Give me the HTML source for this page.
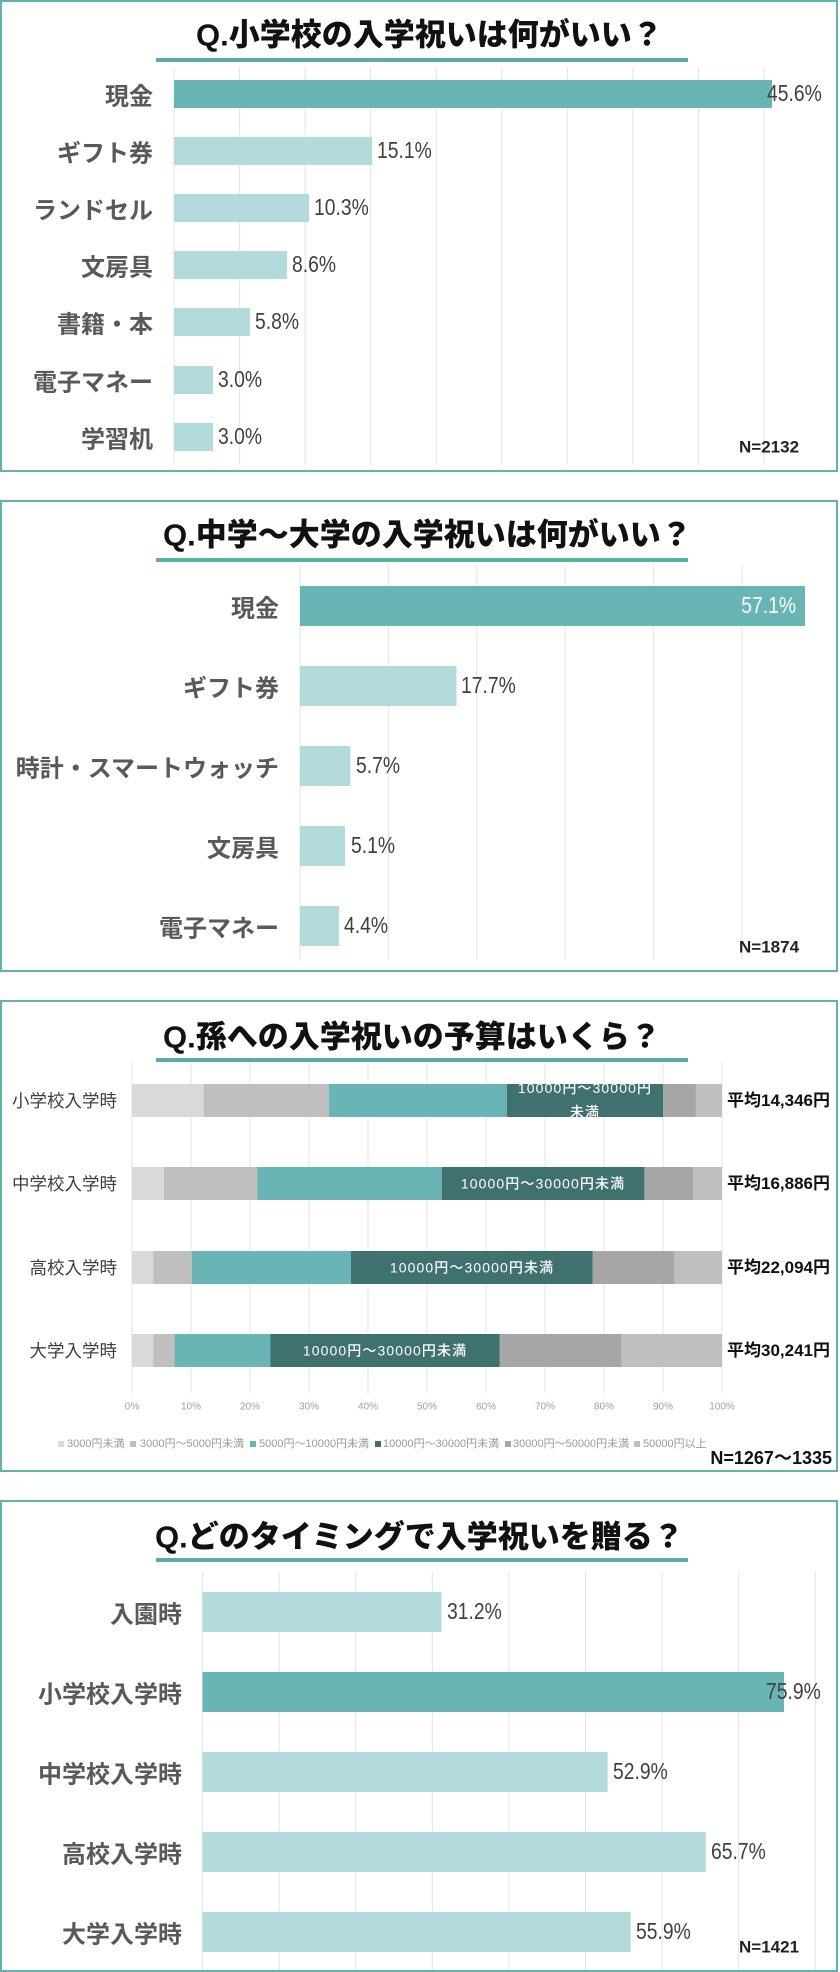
<!DOCTYPE html>
<html><head><meta charset="utf-8"><style>
html,body{margin:0;padding:0;background:#fff;}
svg{display:block;}
text{font-family:"Liberation Sans","Noto Sans CJK JP",sans-serif;}
.t{font-size:31px;font-weight:900;fill:#111;}
.c{font-size:24px;font-weight:bold;fill:#595959;font-family:"Noto Sans CJK JP",sans-serif;}
.v{font-size:23px;fill:#404040;}
.n{font-size:17px;font-weight:bold;fill:#222;}
.g{stroke:#e3e3e3;stroke-width:1;}
.c3{font-size:17.5px;fill:#404040;font-family:"Noto Sans CJK JP",sans-serif;}
.av{font-size:17px;font-weight:bold;fill:#111;}
.tk{font-size:10px;fill:#a0a0a0;}
.lg{font-size:11px;fill:#9a9a9a;}
.sl{font-size:14px;fill:#fff;letter-spacing:1.1px;font-weight:500;}
</style></head><body>
<svg width="840" height="1972" viewBox="0 0 840 1972" xmlns="http://www.w3.org/2000/svg">
<defs>
<clipPath id="cp1"><rect x="506.8" y="1084" width="156.4" height="33"/></clipPath>
</defs>

<!-- ========== Panel 1 ========== -->
<rect x="1" y="1" width="836" height="470" fill="#fff" stroke="#62b3b0" stroke-width="2"/>
<text class="t" x="196" y="35" dominant-baseline="central">Q.小学校の入学祝いは何がいい？</text>
<rect x="156" y="58" width="532" height="4" fill="#5aabab"/>
<g class="g">
<line x1="174" y1="67" x2="174" y2="465"/><line x1="239.6" y1="67" x2="239.6" y2="465"/>
<line x1="305.1" y1="67" x2="305.1" y2="465"/><line x1="370.7" y1="67" x2="370.7" y2="465"/>
<line x1="436.2" y1="67" x2="436.2" y2="465"/><line x1="501.8" y1="67" x2="501.8" y2="465"/>
<line x1="567.3" y1="67" x2="567.3" y2="465"/><line x1="632.9" y1="67" x2="632.9" y2="465"/>
<line x1="698.4" y1="67" x2="698.4" y2="465"/><line x1="764" y1="67" x2="764" y2="465"/>
</g>
<rect x="174" y="80" width="598" height="28" fill="#69b4b5"/>
<rect x="174" y="137" width="198" height="28" fill="#b3dbdb"/>
<rect x="174" y="194" width="135" height="28" fill="#b3dbdb"/>
<rect x="174" y="251" width="113" height="28" fill="#b3dbdb"/>
<rect x="174" y="308" width="76" height="28" fill="#b3dbdb"/>
<rect x="174" y="366" width="39" height="28" fill="#b3dbdb"/>
<rect x="174" y="423" width="39" height="28" fill="#b3dbdb"/>
<g text-anchor="end">
<text class="c" x="153" y="94" dominant-baseline="central">現金</text>
<text class="c" x="153" y="151" dominant-baseline="central">ギフト券</text>
<text class="c" x="153" y="208" dominant-baseline="central">ランドセル</text>
<text class="c" x="153" y="265" dominant-baseline="central">文房具</text>
<text class="c" x="153" y="322" dominant-baseline="central">書籍・本</text>
<text class="c" x="153" y="380" dominant-baseline="central">電子マネー</text>
<text class="c" x="153" y="437" dominant-baseline="central">学習机</text>
</g>
<text class="v" transform="translate(767 94) scale(0.84 1)" dominant-baseline="central">45.6%</text>
<text class="v" transform="translate(377 151) scale(0.84 1)" dominant-baseline="central">15.1%</text>
<text class="v" transform="translate(314 208) scale(0.84 1)" dominant-baseline="central">10.3%</text>
<text class="v" transform="translate(292 265) scale(0.84 1)" dominant-baseline="central">8.6%</text>
<text class="v" transform="translate(255 322) scale(0.84 1)" dominant-baseline="central">5.8%</text>
<text class="v" transform="translate(218 380) scale(0.84 1)" dominant-baseline="central">3.0%</text>
<text class="v" transform="translate(218 437) scale(0.84 1)" dominant-baseline="central">3.0%</text>
<text class="n" x="739" y="447" dominant-baseline="central">N=2132</text>

<!-- ========== Panel 2 ========== -->
<rect x="1" y="501" width="836" height="470" fill="#fff" stroke="#62b3b0" stroke-width="2"/>
<text class="t" x="163" y="535" dominant-baseline="central">Q.中学～大学の入学祝いは何がいい？</text>
<rect x="156" y="558" width="532" height="4" fill="#5aabab"/>
<g class="g">
<line x1="300" y1="565" x2="300" y2="960"/><line x1="388.4" y1="565" x2="388.4" y2="960"/>
<line x1="476.8" y1="565" x2="476.8" y2="960"/><line x1="565.2" y1="565" x2="565.2" y2="960"/>
<line x1="653.6" y1="565" x2="653.6" y2="960"/><line x1="742" y1="565" x2="742" y2="960"/>
</g>
<rect x="300" y="586" width="505" height="40" fill="#69b4b5"/>
<rect x="300" y="666" width="156.5" height="40" fill="#b3dbdb"/>
<rect x="300" y="746" width="50.4" height="40" fill="#b3dbdb"/>
<rect x="300" y="826" width="45" height="40" fill="#b3dbdb"/>
<rect x="300" y="906" width="39" height="40" fill="#b3dbdb"/>
<g text-anchor="end">
<text class="c" x="279" y="606" dominant-baseline="central">現金</text>
<text class="c" x="279" y="686" dominant-baseline="central">ギフト券</text>
<text class="c" x="279" y="766" dominant-baseline="central">時計・スマートウォッチ</text>
<text class="c" x="279" y="846" dominant-baseline="central">文房具</text>
<text class="c" x="279" y="926" dominant-baseline="central">電子マネー</text>
<text class="v" transform="translate(796 606) scale(0.84 1)" dominant-baseline="central" style="fill:#fff">57.1%</text>
</g>
<text class="v" transform="translate(461 686) scale(0.84 1)" dominant-baseline="central">17.7%</text>
<text class="v" transform="translate(356 766) scale(0.84 1)" dominant-baseline="central">5.7%</text>
<text class="v" transform="translate(351 846) scale(0.84 1)" dominant-baseline="central">5.1%</text>
<text class="v" transform="translate(344 926) scale(0.84 1)" dominant-baseline="central">4.4%</text>
<text class="n" x="739" y="947" dominant-baseline="central">N=1874</text>

<!-- ========== Panel 3 ========== -->
<rect x="1" y="1001" width="836" height="470" fill="#fff" stroke="#62b3b0" stroke-width="2"/>
<text class="t" x="163" y="1037" dominant-baseline="central">Q.孫への入学祝いの予算はいくら？</text>
<rect x="156" y="1058" width="532" height="4" fill="#5aabab"/>
<g class="g">
<line x1="132" y1="1062" x2="132" y2="1393"/><line x1="191" y1="1062" x2="191" y2="1393"/>
<line x1="250" y1="1062" x2="250" y2="1393"/><line x1="309" y1="1062" x2="309" y2="1393"/>
<line x1="368" y1="1062" x2="368" y2="1393"/><line x1="427" y1="1062" x2="427" y2="1393"/>
<line x1="486" y1="1062" x2="486" y2="1393"/><line x1="545" y1="1062" x2="545" y2="1393"/>
<line x1="604" y1="1062" x2="604" y2="1393"/><line x1="663" y1="1062" x2="663" y2="1393"/>
<line x1="722" y1="1062" x2="722" y2="1393"/>
</g>
<!-- 小学校 -->
<rect x="132" y="1084" width="71.6" height="33" fill="#d9d9d9"/>
<rect x="203.6" y="1084" width="125.3" height="33" fill="#bfbfbf"/>
<rect x="328.9" y="1084" width="177.9" height="33" fill="#69b4b5"/>
<rect x="506.8" y="1084" width="156.4" height="33" fill="#3f716f"/>
<rect x="663.2" y="1084" width="32.7" height="33" fill="#a6a6a6"/>
<rect x="695.9" y="1084" width="26.1" height="33" fill="#bfbfbf"/>
<g clip-path="url(#cp1)" text-anchor="middle">
<text class="sl" x="585" y="1088" dominant-baseline="central">10000円～30000円</text>
<text class="sl" x="585" y="1112" dominant-baseline="central">未満</text>
</g>
<!-- 中学校 -->
<rect x="132" y="1167" width="31.9" height="33" fill="#d9d9d9"/>
<rect x="163.9" y="1167" width="93.2" height="33" fill="#bfbfbf"/>
<rect x="257.1" y="1167" width="184.9" height="33" fill="#69b4b5"/>
<rect x="442" y="1167" width="202.4" height="33" fill="#3f716f"/>
<rect x="644.4" y="1167" width="48.8" height="33" fill="#a6a6a6"/>
<rect x="693.2" y="1167" width="28.8" height="33" fill="#bfbfbf"/>
<text class="sl" x="543" y="1183.5" text-anchor="middle" dominant-baseline="central">10000円～30000円未満</text>
<!-- 高校 -->
<rect x="132" y="1251" width="21.2" height="33" fill="#d9d9d9"/>
<rect x="153.2" y="1251" width="38.6" height="33" fill="#bfbfbf"/>
<rect x="191.8" y="1251" width="159.1" height="33" fill="#69b4b5"/>
<rect x="350.9" y="1251" width="241.6" height="33" fill="#3f716f"/>
<rect x="592.5" y="1251" width="81.9" height="33" fill="#a6a6a6"/>
<rect x="674.4" y="1251" width="47.6" height="33" fill="#bfbfbf"/>
<text class="sl" x="472" y="1267.5" text-anchor="middle" dominant-baseline="central">10000円～30000円未満</text>
<!-- 大学 -->
<rect x="132" y="1334" width="21.2" height="33" fill="#d9d9d9"/>
<rect x="153.2" y="1334" width="21.4" height="33" fill="#bfbfbf"/>
<rect x="174.6" y="1334" width="95.9" height="33" fill="#69b4b5"/>
<rect x="270.5" y="1334" width="229.3" height="33" fill="#3f716f"/>
<rect x="499.8" y="1334" width="121.6" height="33" fill="#a6a6a6"/>
<rect x="621.4" y="1334" width="100.6" height="33" fill="#bfbfbf"/>
<text class="sl" x="385" y="1350.5" text-anchor="middle" dominant-baseline="central">10000円～30000円未満</text>

<g text-anchor="end">
<text class="c3" x="117" y="1100.5" dominant-baseline="central">小学校入学時</text>
<text class="c3" x="117" y="1183.5" dominant-baseline="central">中学校入学時</text>
<text class="c3" x="117" y="1267.5" dominant-baseline="central">高校入学時</text>
<text class="c3" x="117" y="1350.5" dominant-baseline="central">大学入学時</text>
</g>
<text class="av" x="727" y="1100.5" dominant-baseline="central">平均14,346円</text>
<text class="av" x="727" y="1183.5" dominant-baseline="central">平均16,886円</text>
<text class="av" x="727" y="1267.5" dominant-baseline="central">平均22,094円</text>
<text class="av" x="727" y="1350.5" dominant-baseline="central">平均30,241円</text>

<g text-anchor="middle">
<text class="tk" x="132" y="1407" dominant-baseline="central">0%</text>
<text class="tk" x="191" y="1407" dominant-baseline="central">10%</text>
<text class="tk" x="250" y="1407" dominant-baseline="central">20%</text>
<text class="tk" x="309" y="1407" dominant-baseline="central">30%</text>
<text class="tk" x="368" y="1407" dominant-baseline="central">40%</text>
<text class="tk" x="427" y="1407" dominant-baseline="central">50%</text>
<text class="tk" x="486" y="1407" dominant-baseline="central">60%</text>
<text class="tk" x="545" y="1407" dominant-baseline="central">70%</text>
<text class="tk" x="604" y="1407" dominant-baseline="central">80%</text>
<text class="tk" x="663" y="1407" dominant-baseline="central">90%</text>
<text class="tk" x="722" y="1407" dominant-baseline="central">100%</text>
</g>
<rect x="58" y="1441" width="6" height="6" fill="#d9d9d9"/>
<text class="lg" x="67" y="1444" dominant-baseline="central">3000円未満</text>
<rect x="130" y="1441" width="6" height="6" fill="#bfbfbf"/>
<text class="lg" x="140" y="1444" dominant-baseline="central">3000円～5000円未満</text>
<rect x="250" y="1441" width="6" height="6" fill="#69b4b5"/>
<text class="lg" x="259" y="1444" dominant-baseline="central">5000円～10000円未満</text>
<rect x="375" y="1441" width="6" height="6" fill="#3f716f"/>
<text class="lg" x="383" y="1444" dominant-baseline="central">10000円～30000円未満</text>
<rect x="505" y="1441" width="6" height="6" fill="#a6a6a6"/>
<text class="lg" x="513" y="1444" dominant-baseline="central">30000円～50000円未満</text>
<rect x="634" y="1441" width="6" height="6" fill="#bfbfbf"/>
<text class="lg" x="643" y="1444" dominant-baseline="central">50000円以上</text>
<text class="n" x="832" y="1458" text-anchor="end" dominant-baseline="central" style="font-size:18px;fill:#111">N=1267～1335</text>

<!-- ========== Panel 4 ========== -->
<rect x="1" y="1501" width="836" height="470" fill="#fff" stroke="#62b3b0" stroke-width="2"/>
<text class="t" x="155" y="1537" dominant-baseline="central">Q.どのタイミングで入学祝いを贈る？</text>
<rect x="156" y="1558" width="532" height="4" fill="#5aabab"/>
<g class="g">
<line x1="202.5" y1="1572" x2="202.5" y2="1970"/><line x1="279.1" y1="1572" x2="279.1" y2="1970"/>
<line x1="355.7" y1="1572" x2="355.7" y2="1970"/><line x1="432.3" y1="1572" x2="432.3" y2="1970"/>
<line x1="508.9" y1="1572" x2="508.9" y2="1970"/><line x1="585.5" y1="1572" x2="585.5" y2="1970"/>
<line x1="662.1" y1="1572" x2="662.1" y2="1970"/><line x1="738.7" y1="1572" x2="738.7" y2="1970"/>
<line x1="815.3" y1="1572" x2="815.3" y2="1970"/>
</g>
<rect x="202.5" y="1592" width="239" height="40" fill="#b3dbdb"/>
<rect x="202.5" y="1672" width="581.5" height="40" fill="#69b4b5"/>
<rect x="202.5" y="1752" width="405.2" height="40" fill="#b3dbdb"/>
<rect x="202.5" y="1832" width="503.3" height="40" fill="#b3dbdb"/>
<rect x="202.5" y="1912" width="428.2" height="40" fill="#b3dbdb"/>
<g text-anchor="end">
<text class="c" x="182" y="1612" dominant-baseline="central">入園時</text>
<text class="c" x="182" y="1692" dominant-baseline="central">小学校入学時</text>
<text class="c" x="182" y="1772" dominant-baseline="central">中学校入学時</text>
<text class="c" x="182" y="1852" dominant-baseline="central">高校入学時</text>
<text class="c" x="182" y="1932" dominant-baseline="central">大学入学時</text>
</g>
<text class="v" transform="translate(447 1612) scale(0.84 1)" dominant-baseline="central">31.2%</text>
<text class="v" transform="translate(766 1692) scale(0.84 1)" dominant-baseline="central">75.9%</text>
<text class="v" transform="translate(613 1772) scale(0.84 1)" dominant-baseline="central">52.9%</text>
<text class="v" transform="translate(711 1852) scale(0.84 1)" dominant-baseline="central">65.7%</text>
<text class="v" transform="translate(636 1932) scale(0.84 1)" dominant-baseline="central">55.9%</text>
<text class="n" x="739" y="1947" dominant-baseline="central">N=1421</text>
</svg>
</body></html>
